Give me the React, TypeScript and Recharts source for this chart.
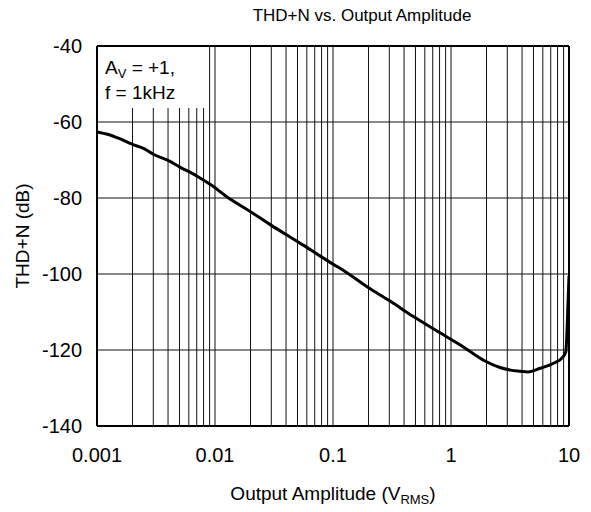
import React from 'react';
import { LineChart, Line, XAxis, YAxis, ReferenceLine, ReferenceArea } from 'recharts';

// output amplitude in V RMS
const amplitude = [
  0.001, 0.00125, 0.0015, 0.002, 0.0025, 0.003, 0.004, 0.005, 0.007, 0.0095,
  0.0125, 0.02, 0.03, 0.04, 0.056, 0.078, 0.1, 0.122, 0.2, 0.3,
  0.48, 0.8, 1.2, 1.55, 2.0, 2.6, 3.2, 3.85, 4.5, 5.7,
  7.4, 8.9, 9.4, 9.7, 10,
];
// THD+N in dB
const thdn = [
  -62.6, -63.3, -64.2, -65.9, -67.0, -68.5, -70.1, -71.8, -74.2, -76.8,
  -79.6, -83.6, -87.2, -89.6, -92.4, -95.3, -97.4, -99.0, -103.6, -107.0,
  -111.2, -115.4, -118.7, -121.0, -123.1, -124.6, -125.3, -125.6, -125.8, -124.8,
  -123.5, -121.8, -120.5, -112, -100.5,
];

const xTicks = [0.001, 0.01, 0.1, 1, 10];
const yTicks = [-140, -120, -100, -80, -60, -40];
const decades = [0.001, 0.01, 0.1, 1];

const data = amplitude.map((v, i) => ({ v, thdn: thdn[i] }));
const vGrid = decades.flatMap((d) => [1, 2, 3, 4, 5, 6, 7, 8, 9].map((k) => +(k * d).toPrecision(3)));
const hGrid = yTicks.slice(1, -1);

const FONT = '"Liberation Sans", Arial, sans-serif';

const XLabel = ({ viewBox }: any) => {
  const { x, y, width } = viewBox;
  return (
    <text x={x + width / 2} y={y + 74} textAnchor="middle" fontSize={19} fontFamily={FONT} fill="#000">
      Output Amplitude (V
      <tspan fontSize={13} dy={4}>RMS</tspan>
      <tspan dy={-4}>)</tspan>
    </text>
  );
};

const YLabel = ({ viewBox }: any) => {
  const { y, height } = viewBox;
  const cx = 22;
  const cy = y + height / 2;
  return (
    <text x={cx} y={cy} transform={`rotate(-90 ${cx} ${cy})`} textAnchor="middle" dominantBaseline="central"
      fontSize={19} fontFamily={FONT} fill="#000">
      THD+N (dB)
    </text>
  );
};

const Note = ({ viewBox }: any) => {
  const { x, y } = viewBox;
  return (
    <text fontSize={19} fontFamily={FONT} fill="#000">
      <tspan x={x + 8} y={y + 28}>A</tspan>
      <tspan fontSize={13} dy={4}>V</tspan>
      <tspan dy={-4}> = +1,</tspan>
      <tspan x={x + 8} y={y + 53}>f = 1kHz</tspan>
    </text>
  );
};

export default function App() {
  return (
    <div style={{ position: 'absolute', left: 0, top: 0, width: 591, height: 512, background: '#fff' }}>
      <div style={{ position: 'absolute', left: 130, width: 464, top: 6, textAlign: 'center', fontFamily: FONT, fontSize: 17 }}>
        THD+N vs. Output Amplitude
      </div>
      <LineChart width={591} height={512} data={data} margin={{ top: 46, right: 22, bottom: 0, left: 0 }}>
        <XAxis dataKey="v" type="number" scale="log" domain={[0.001, 10]} ticks={xTicks} allowDataOverflow
          height={86} tickSize={0} tickMargin={22} tickLine={false}
          axisLine={{ stroke: '#000', strokeWidth: 2 }}
          tick={{ fill: '#000', fontSize: 20, fontFamily: FONT }}
          label={<XLabel />} />
        <YAxis type="number" domain={[-140, -40]} ticks={yTicks} allowDataOverflow width={97}
          tickSize={0} tickMargin={15} tickLine={false}
          axisLine={{ stroke: '#000', strokeWidth: 2 }}
          tick={{ fill: '#000', fontSize: 20, fontFamily: FONT }}
          label={<YLabel />} />
        {vGrid.map((g) => (
          <ReferenceLine key={`v${g}`} x={g} stroke="#111" strokeWidth={1} zIndex={-50} />
        ))}
        {hGrid.map((g) => (
          <ReferenceLine key={`h${g}`} y={g} stroke="#111" strokeWidth={1} zIndex={-50} />
        ))}
        <ReferenceArea x1={0.001} x2={0.0087} y1={-56.3} y2={-40} fill="#fff" fillOpacity={1} stroke="none"
          zIndex={-40} label={<Note />} />
        <ReferenceLine y={-40} stroke="#000" strokeWidth={2} />
        <ReferenceLine x={10} stroke="#000" strokeWidth={2} />
        <Line type="monotone" dataKey="thdn" stroke="#000" strokeWidth={3} dot={false} isAnimationActive={false} />
      </LineChart>
    </div>
  );
}
